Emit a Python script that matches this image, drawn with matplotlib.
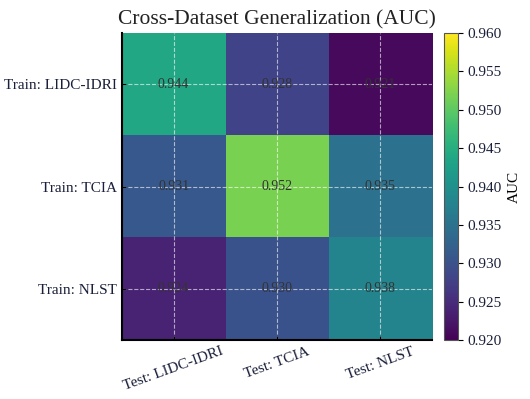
import matplotlib
matplotlib.use('Agg')
import matplotlib.pyplot as plt
import numpy as np

train_labels = ['Train: LIDC-IDRI', 'Train: TCIA', 'Train: NLST']
test_labels = ['Test: LIDC-IDRI', 'Test: TCIA', 'Test: NLST']
auc = [[0.944, 0.928, 0.921],
       [0.931, 0.952, 0.935],
       [0.924, 0.930, 0.938]]

plt.rcParams['font.family'] = ['Liberation Serif', 'DejaVu Serif']

fig = plt.figure(figsize=(5.3, 3.99), dpi=100)
ax = fig.add_axes([0.230, 0.148, 0.585, 0.769])
cax = fig.add_axes([0.838, 0.148, 0.026, 0.769])

data = np.array(auc)
im = ax.imshow(data, cmap='viridis', vmin=0.92, vmax=0.96, aspect='auto')
ax.set_xticks(range(len(test_labels)))
ax.set_xticklabels(test_labels, rotation=20, fontsize=11, color='#1a1f3a')
ax.set_yticks(range(len(train_labels)))
ax.set_yticklabels(train_labels, fontsize=11, color='#1a1f3a')
ax.tick_params(direction='in', length=3)
for s in ['top', 'right']:
    ax.spines[s].set_visible(False)
for s in ['left', 'bottom']:
    ax.spines[s].set_linewidth(1.5)
ax.grid(True, color='white', ls='--', lw=0.8, alpha=0.6)

for i in range(data.shape[0]):
    for j in range(data.shape[1]):
        ax.text(j, i, f'{data[i, j]:.3f}', ha='center', va='center',
                fontsize=10, color='#333333')

ax.set_title('Cross-Dataset Generalization (AUC)', fontsize=15.5, color='#222222')

cb = fig.colorbar(im, cax=cax)
cb.set_label('AUC', fontsize=11)
cb.set_ticks(np.arange(0.92, 0.9601, 0.005))
cb.ax.tick_params(labelsize=11)
cb.outline.set_edgecolor('#555555')
for t in cb.ax.get_yticklabels():
    t.set_color('#1a1f3a')

fig.savefig('out.png', dpi=100)
